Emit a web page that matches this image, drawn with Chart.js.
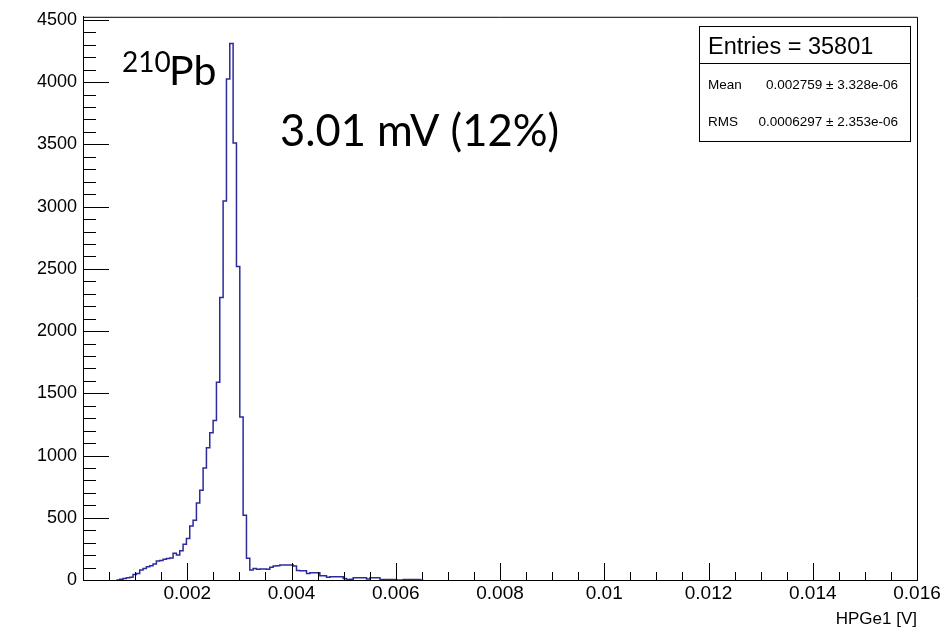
<!DOCTYPE html>
<html>
<head>
<meta charset="utf-8">
<script src="https://cdn.jsdelivr.net/npm/chart.js@4.4.1/dist/chart.umd.min.js"></script>
<style>
  html, body { margin: 0; padding: 0; background: #fff; }
  #wrap { width: 949px; height: 634px; }
</style>
</head>
<body>
<div id="wrap"><canvas id="grafico"></canvas></div>
<script>
// Histograma HPGe1: bins de 0.000064 V (250 bins entre 0 y 0.016 V)
const binWidth = 0.000064;
const firstBin = 10;
// cuentas por bin, desde el bin 10 hasta el 101
const counts = [
  0, 6, 12, 19, 22, 45, 53, 80, 93, 107,
  115, 128, 152, 157, 166, 172, 176, 214, 200, 235,
  288, 334, 433, 481, 619, 721, 900, 1063, 1183, 1282,
  1589, 2270, 3045, 4025, 4310, 3512, 2518, 1309, 521, 174,
  80, 93, 86, 88, 88, 86, 102, 112, 115, 120,
  120, 121, 120, 112, 76, 75, 74, 53, 59, 59,
  58, 35, 35, 22, 27, 27, 27, 26, 13, 5,
  6, 19, 19, 19, 18, 8, 19, 19, 18, 5,
  5, 5, 5, 4, 0, 0, 5, 5, 5, 5,
  5, 0
];
const xTicks = [0.002, 0.004, 0.006, 0.008, 0.01, 0.012, 0.014, 0.016];
const yTicks = [0, 500, 1000, 1500, 2000, 2500, 3000, 3500, 4000, 4500];
const statsLines = [
  ["Entries = 35801", ""],
  ["Mean", "0.002759 \u00b1 3.328e-06"],
  ["RMS", "0.0006297 \u00b1 2.353e-06"]
];

// puntos del histograma (borde izquierdo de cada bin)
const puntos = counts.map((c, i) => ({ x: (firstBin + i) * binWidth, y: c }));
puntos.push({ x: (firstBin + counts.length) * binWidth, y: 0 });

const rootFont = "'Liberation Sans', Arial, sans-serif";
const notaFont = "Lato, 'Open Sans', sans-serif";

// marco y marcas hacia dentro, estilo ROOT
const marcoPlugin = {
  id: 'marco',
  afterDraw(chart) {
    const ctx = chart.ctx;
    const a = chart.chartArea;
    const xs = chart.scales.x;
    const ys = chart.scales.y;
    ctx.save();
    ctx.strokeStyle = '#000';
    ctx.lineWidth = 1;
    ctx.beginPath();
    ctx.moveTo(a.left, a.top + 0.5);
    ctx.lineTo(a.right + 0.5, a.top + 0.5);
    ctx.lineTo(a.right + 0.5, a.bottom);
    // marcas eje y
    for (let v = 0; v <= ys.max; v += 100) {
      const py = Math.round(ys.getPixelForValue(v)) + 0.5;
      const len = v % 500 === 0 ? 26 : 13;
      ctx.moveTo(a.left, py);
      ctx.lineTo(a.left + len, py);
    }
    // marcas eje x
    for (let k = 0; k <= 32; k++) {
      const px = Math.round(xs.getPixelForValue(k * 0.0005)) + 0.5;
      const len = k % 4 === 0 ? 17 : 8;
      ctx.moveTo(px, a.bottom);
      ctx.lineTo(px, a.bottom - len);
    }
    ctx.stroke();

    // caja de estadísticas
    ctx.strokeRect(699.5, 26.5, 211, 115);
    ctx.beginPath();
    ctx.moveTo(699.5, 63.5);
    ctx.lineTo(910.5, 63.5);
    ctx.stroke();
    ctx.fillStyle = '#000';
    ctx.textBaseline = 'alphabetic';
    ctx.font = '23.5px ' + rootFont;
    ctx.textAlign = 'left';
    ctx.fillText(statsLines[0][0], 708, 54);
    ctx.font = '13.5px ' + rootFont;
    ctx.fillText(statsLines[1][0], 708, 89);
    ctx.fillText(statsLines[2][0], 708, 126);
    ctx.textAlign = 'right';
    ctx.fillText(statsLines[1][1], 898, 89);
    ctx.fillText(statsLines[2][1], 898, 126);

    // anotaciones
    ctx.textAlign = 'left';
    ctx.font = '28px ' + notaFont;
    ctx.fillText('210', 122, 72);
    ctx.font = '41px ' + notaFont;
    ctx.fillText('Pb', 169, 85);
    ctx.font = '43.5px ' + notaFont;
    ctx.fillText('3.01 mV (12%)', 280, 146);
    ctx.restore();
  }
};

new Chart(document.getElementById('grafico').getContext('2d'), {
  type: 'line',
  data: {
    datasets: [{
      label: 'HPGe1',
      data: puntos,
      stepped: true,
      borderColor: '#2b2b9a',
      borderWidth: 1.5,
      pointRadius: 0,
      fill: false
    }]
  },
  options: {
    responsive: true,
    maintainAspectRatio: false,
    animation: false,
    devicePixelRatio: 1,
    layout: { padding: { left: 0, right: 32, top: 16, bottom: 0 } },
    plugins: { legend: { display: false }, tooltip: { enabled: false } },
    scales: {
      x: {
        type: 'linear',
        min: 0,
        max: 0.016,
        z: 1,
        grid: { display: false, drawTicks: false },
        border: { display: true, color: '#000', width: 1 },
        afterFit: s => { s.height = 54; },
        afterBuildTicks: s => { s.ticks = xTicks.map(v => ({ value: v })); },
        ticks: {
          color: '#000',
          padding: 2,
          maxRotation: 0,
          autoSkip: false,
          font: { family: rootFont, size: 19 },
          callback: v => String(+v.toFixed(4))
        },
        title: {
          display: true,
          text: 'HPGe1 [V]',
          align: 'end',
          color: '#000',
          font: { family: rootFont, size: 17 },
          padding: { top: 0, bottom: 4 }
        }
      },
      y: {
        min: 0,
        max: 4525,
        z: 1,
        grid: { display: false, drawTicks: false },
        border: { display: true, color: '#000', width: 1 },
        afterFit: s => { s.width = 83; },
        afterBuildTicks: s => { s.ticks = yTicks.map(v => ({ value: v })); },
        ticks: {
          color: '#000',
          padding: 6,
          autoSkip: false,
          font: { family: rootFont, size: 18 },
          callback: v => String(v)
        }
      }
    }
  },
  plugins: [marcoPlugin]
});
</script>
</body>
</html>
